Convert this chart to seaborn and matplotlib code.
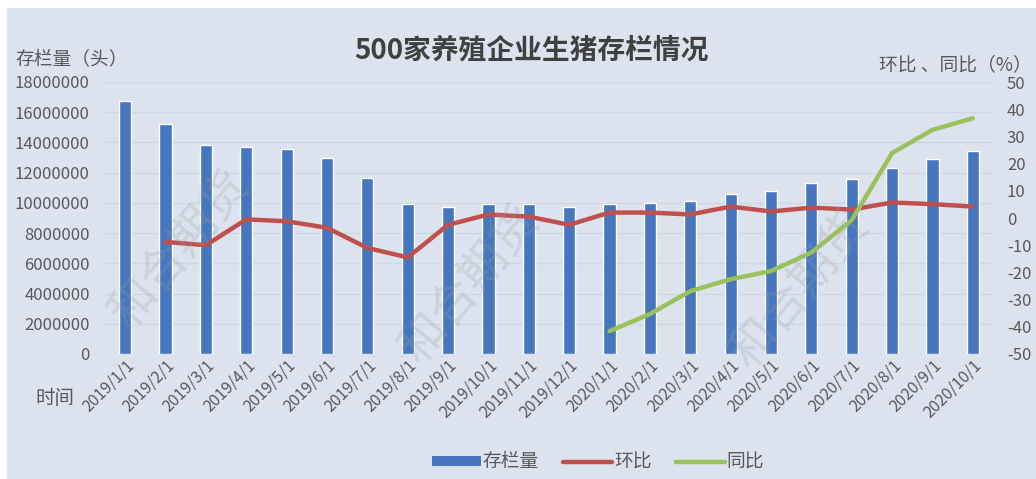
import numpy as np
import pandas as pd
import matplotlib
matplotlib.use("Agg")
import matplotlib.pyplot as plt
import seaborn as sns
from matplotlib.patches import Rectangle
from matplotlib.lines import Line2D
from matplotlib.patches import Patch

dates = ["2019/1/1", "2019/2/1", "2019/3/1", "2019/4/1", "2019/5/1", "2019/6/1",
         "2019/7/1", "2019/8/1", "2019/9/1", "2019/10/1", "2019/11/1", "2019/12/1",
         "2020/1/1", "2020/2/1", "2020/3/1", "2020/4/1", "2020/5/1", "2020/6/1",
         "2020/7/1", "2020/8/1", "2020/9/1", "2020/10/1"]
stock = [16750000, 15250000, 13800000, 13700000, 13550000, 13000000,
         11650000, 9900000, 9700000, 9900000, 9900000, 9700000,
         9900000, 10000000, 10100000, 10600000, 10800000, 11300000,
         11600000, 12300000, 12900000, 13450000]
mom = [np.nan, -8.8, -10.0, -0.5, -1.2, -3.6,
       -11.0, -14.5, -2.5, 1.3, 0.5, -2.5,
       2.0, 2.0, 1.3, 4.2, 2.4, 3.8,
       3.1, 5.7, 5.1, 4.2]
yoy = [np.nan] * 12 + [-41.6, -35.3, -26.9, -22.5, -19.5, -12.7,
                       -0.8, 23.9, 32.4, 36.7]

df = pd.DataFrame({"date": dates, "stock": stock, "mom": mom, "yoy": yoy,
                   "pos": np.arange(len(dates))})

sns.set_theme(style="white")
plt.rcParams["font.family"] = ["Noto Sans CJK SC", "DejaVu Sans"]
plt.rcParams["axes.unicode_minus"] = False

BG = "#dce3ee"
BAR = "#4676be"
RED = "#c0504d"
GREEN = "#9bc15a"
TXT = "#595959"

fig = plt.figure(figsize=(10.36, 4.79), dpi=100)
fig.patch.set_facecolor("white")
fig.patches.append(Rectangle((7 / 1036, 0), 1 - 7 / 1036, 1 - 8 / 479,
                             transform=fig.transFigure, facecolor=BG,
                             edgecolor="none", zorder=-10))

ax = fig.add_axes([105 / 1036, 1 - 354 / 479, 888 / 1036, 272 / 479])
ax.set_facecolor("none")
sns.barplot(data=df, x="date", y="stock", color=BAR, width=0.3,
            saturation=1, ax=ax, zorder=2)
ax.set_ylim(0, 18000000)
ax.set_xlim(-0.5, len(dates) - 0.5)
ax.set_yticks(np.arange(0, 18000001, 2000000))
ax.set_yticklabels([str(v) for v in range(0, 18000001, 2000000)],
                   fontsize=12, color=TXT)
ax.yaxis.grid(True, color="#cfd6e0", linewidth=1)
ax.set_axisbelow(True)
for s in ax.spines.values():
    s.set_visible(False)
ax.tick_params(axis="y", length=0, pad=11)
ax.tick_params(axis="x", length=0, pad=2)
ax.set_xticks(range(len(dates)))
ax.set_xticklabels(dates, rotation=45, ha="right", rotation_mode="anchor",
                   fontsize=11.5, color=TXT)
ax.set_xlabel("")
ax.set_ylabel("")

ax2 = ax.twinx()
sns.lineplot(data=df, x="pos", y="mom", color=RED, linewidth=3.2, ax=ax2)
sns.lineplot(data=df, x="pos", y="yoy", color=GREEN, linewidth=3.2, ax=ax2)
ax2.set_ylim(-50, 50)
ax2.set_xlim(-0.5, len(dates) - 0.5)
ax2.set_yticks(range(-50, 51, 10))
ax2.set_yticklabels([str(v) for v in range(-50, 51, 10)], fontsize=12, color=TXT)
ax2.tick_params(axis="y", length=0, pad=10)
ax2.set_ylabel("")
ax2.set_xlabel("")
for s in ax2.spines.values():
    s.set_visible(False)

fig.text(531 / 1036, 1 - 50 / 479, "500家养殖企业生猪存栏情况", ha="center",
         va="center", fontsize=20, fontweight="bold", color="#404040")
fig.text(15 / 1036, 1 - 60 / 479, "存栏量（头）", ha="left", va="center",
         fontsize=13.5, color=TXT)
fig.text(1032 / 1036, 1 - 65 / 479, "环比 、同比（%）", ha="right", va="center",
         fontsize=13.5, color=TXT)
fig.text(35 / 1036, 1 - 398 / 479, "时间", ha="left", va="center",
         fontsize=14, color=TXT)

for (wx, wy) in [(180, 250), (470, 285), (800, 290)]:
    fig.text(wx / 1036, 1 - wy / 479, "和合期货", rotation=50, ha="center",
             va="center", fontsize=34, color="#9aa0a8", alpha=0.25, zorder=5)

handles = [Patch(facecolor=BAR, edgecolor="none"),
           Line2D([], [], color=RED, linewidth=3.2),
           Line2D([], [], color=GREEN, linewidth=3.2)]
fig.legend(handles, ["存栏量", "环比", "同比"], loc="center",
           bbox_to_anchor=(598 / 1036, 1 - 462 / 479), ncol=3, frameon=False,
           fontsize=13.5, handlelength=2.6, handleheight=0.45, columnspacing=1.3,
           handletextpad=0.1, labelcolor=TXT)

fig.savefig("out.png", dpi=100, facecolor=fig.get_facecolor())
